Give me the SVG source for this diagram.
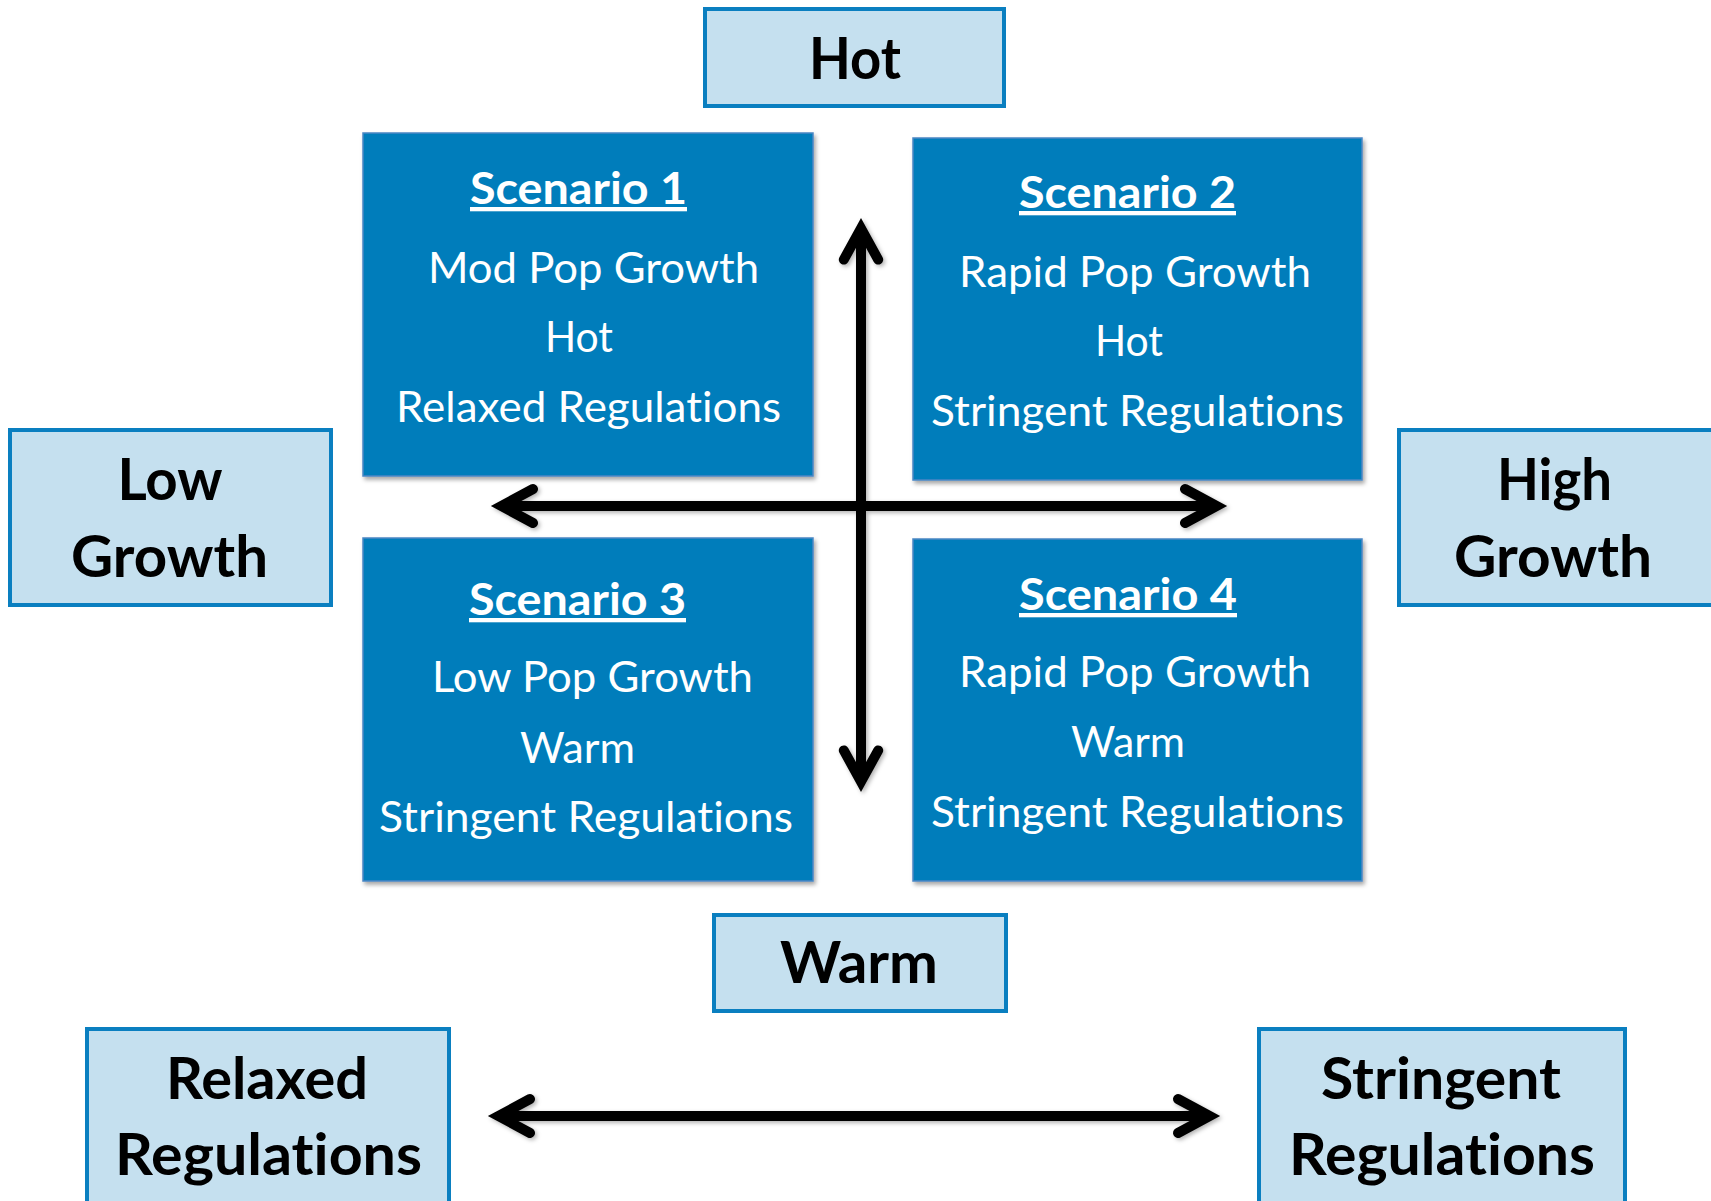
<svg xmlns="http://www.w3.org/2000/svg" width="1711" height="1201" viewBox="0 0 1711 1201">
<style>
text{font-variant-ligatures:none;font-feature-settings:"liga" 0,"clig" 0}
.axis{fill:#c5e0ef;stroke:#0a7fc0;stroke-width:4}
.scen{fill:#027dbb;stroke:#4a86c4;stroke-width:1.5}
.lbl{font-family:Lato,"Open Sans",sans-serif;font-weight:bold;font-size:58px;fill:#000;text-anchor:middle}
.head{font-family:Lato,"Open Sans",sans-serif;font-weight:bold;font-size:43px;fill:#fff;text-anchor:middle;text-decoration:underline}
.body{font-family:Lato,"Open Sans",sans-serif;font-size:42px;fill:#fff;text-anchor:middle}
.ln{fill:none;stroke:#000;stroke-width:10;stroke-linecap:round;stroke-linejoin:miter}
</style>
<defs>
<filter id="sh" x="-10%" y="-10%" width="120%" height="120%">
<feDropShadow dx="2" dy="3" stdDeviation="2" flood-color="#000" flood-opacity="0.35"/>
</filter>
<filter id="ash" x="-10%" y="-10%" width="120%" height="120%">
<feDropShadow dx="2" dy="2" stdDeviation="2" flood-color="#000" flood-opacity="0.3"/>
</filter>
</defs>

<g id="hot">
<rect class="axis" x="705" y="9" width="299" height="97"/>
<text class="lbl" x="855" y="79" textLength="92" lengthAdjust="spacingAndGlyphs">Hot</text>
</g>
<g id="warm">
<rect class="axis" x="714" y="915" width="292" height="96"/>
<text class="lbl" x="859" y="983" textLength="158" lengthAdjust="spacingAndGlyphs">Warm</text>
</g>
<g id="low-growth">
<rect class="axis" x="10" y="430" width="321" height="175"/>
<text class="lbl" x="170" y="500" textLength="105" lengthAdjust="spacingAndGlyphs">Low</text>
<text class="lbl" x="169.5" y="577" textLength="197" lengthAdjust="spacingAndGlyphs">Growth</text>
</g>
<g id="high-growth">
<rect class="axis" x="1399" y="430" width="320" height="175"/>
<text class="lbl" x="1554.5" y="500" textLength="115" lengthAdjust="spacingAndGlyphs">High</text>
<text class="lbl" x="1553" y="577" textLength="198" lengthAdjust="spacingAndGlyphs">Growth</text>
</g>
<g id="relaxed">
<rect class="axis" x="87" y="1029" width="362" height="190"/>
<text class="lbl" x="267" y="1099" textLength="202" lengthAdjust="spacingAndGlyphs">Relaxed</text>
<text class="lbl" x="268.5" y="1175" textLength="307" lengthAdjust="spacingAndGlyphs">Regulations</text>
</g>
<g id="stringent">
<rect class="axis" x="1259" y="1029" width="366" height="190"/>
<text class="lbl" x="1441" y="1099" textLength="240" lengthAdjust="spacingAndGlyphs">Stringent</text>
<text class="lbl" x="1442" y="1175" textLength="306" lengthAdjust="spacingAndGlyphs">Regulations</text>
</g>

<g id="scenario1">
<rect class="scen" x="363" y="133" width="450" height="343" filter="url(#sh)"/>
<text class="head" x="578.5" y="204" textLength="217" lengthAdjust="spacingAndGlyphs">Scenario 1</text>
<text class="body" x="593.5" y="283" textLength="331" lengthAdjust="spacingAndGlyphs">Mod Pop Growth</text>
<text class="body" x="579" y="352" textLength="68" lengthAdjust="spacingAndGlyphs">Hot</text>
<text class="body" x="588.5" y="422" textLength="385" lengthAdjust="spacingAndGlyphs">Relaxed Regulations</text>
</g>
<g id="scenario2">
<rect class="scen" x="913" y="138" width="449" height="342" filter="url(#sh)"/>
<text class="head" x="1127.5" y="208" textLength="217" lengthAdjust="spacingAndGlyphs">Scenario 2</text>
<text class="body" x="1135" y="287" textLength="352" lengthAdjust="spacingAndGlyphs">Rapid Pop Growth</text>
<text class="body" x="1129" y="356" textLength="68" lengthAdjust="spacingAndGlyphs">Hot</text>
<text class="body" x="1137.5" y="426" textLength="413" lengthAdjust="spacingAndGlyphs">Stringent Regulations</text>
</g>
<g id="scenario3">
<rect class="scen" x="363" y="538" width="450" height="343" filter="url(#sh)"/>
<text class="head" x="577.5" y="615" textLength="217" lengthAdjust="spacingAndGlyphs">Scenario 3</text>
<text class="body" x="592.5" y="692" textLength="321" lengthAdjust="spacingAndGlyphs">Low Pop Growth</text>
<text class="body" x="577.5" y="763" textLength="115" lengthAdjust="spacingAndGlyphs">Warm</text>
<text class="body" x="586" y="832" textLength="414" lengthAdjust="spacingAndGlyphs">Stringent Regulations</text>
</g>
<g id="scenario4">
<rect class="scen" x="913" y="539" width="449" height="342" filter="url(#sh)"/>
<text class="head" x="1128" y="610" textLength="218" lengthAdjust="spacingAndGlyphs">Scenario 4</text>
<text class="body" x="1135" y="687" textLength="352" lengthAdjust="spacingAndGlyphs">Rapid Pop Growth</text>
<text class="body" x="1128" y="757" textLength="114" lengthAdjust="spacingAndGlyphs">Warm</text>
<text class="body" x="1137.5" y="827" textLength="413" lengthAdjust="spacingAndGlyphs">Stringent Regulations</text>
</g>

<g id="connectors" filter="url(#ash)">
<path class="ln" d="M861,230 L861,780" stroke-linecap="butt"/>
<path class="ln" d="M843.8,259.6 L861,228.4 L878.2,259.6"/>
<path class="ln" d="M843.8,750.4 L861,781.6 L878.2,750.4"/>
<path class="ln" d="M503,506 L1215,506" stroke-linecap="butt"/>
<path class="ln" d="M1185,489 L1216.6,506 L1185,523"/>
<path class="ln" d="M533,489 L501.4,506 L533,523"/>
<path class="ln" d="M500,1116 L1208,1116" stroke-linecap="butt"/>
<path class="ln" d="M530,1099 L498.4,1116 L530,1133"/>
<path class="ln" d="M1178,1099 L1209.6,1116 L1178,1133"/>
</g>
</svg>
